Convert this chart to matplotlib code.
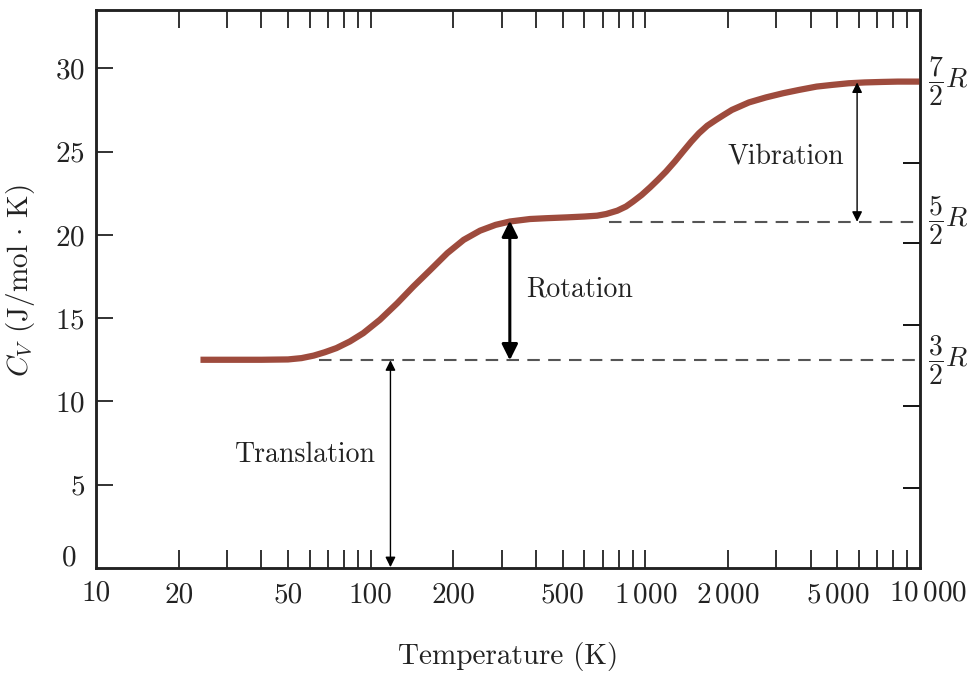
import numpy as np
import matplotlib
matplotlib.use('Agg')
import matplotlib.pyplot as plt


#molar heat capacity of a diatomic gas
temp = [24, 40, 50, 56, 62, 68, 75, 84, 94, 108, 125, 143, 165, 190, 218, 250, 285, 321, 380, 438,
        520, 600, 667, 720, 790, 850, 902, 970, 1040, 1110, 1189, 1280, 1371, 1470, 1567, 1680, 1807,
        1930, 2066, 2383, 2748, 3170, 3625, 4200, 4773, 5500, 6300, 7300, 8300, 10000]
cv = [12.5, 12.5, 12.52, 12.6, 12.75, 12.95, 13.2, 13.6, 14.1, 14.9, 15.9, 16.9, 17.9, 18.9, 19.7, 20.25,
      20.6, 20.8, 20.95, 21.0, 21.05, 21.1, 21.15, 21.25, 21.45, 21.7, 22.0, 22.4, 22.85, 23.3, 23.8, 24.4,
      25.0, 25.6, 26.1, 26.55, 26.9, 27.2, 27.5, 27.95, 28.25, 28.5, 28.7, 28.9, 29.0, 29.1, 29.15, 29.18,
      29.2, 29.2]

#levels 3/2 R, 5/2 R, 7/2 R
R = 8.314
levels = [1.5 * R, 2.5 * R, 3.5 * R]
level_labels = [r'$\dfrac{3}{2}R$', r'$\dfrac{5}{2}R$', r'$\dfrac{7}{2}R$']

#tick values
xtick_vals = [20, 30, 40, 50, 60, 70, 80, 90, 100, 200, 300, 400, 500, 600, 700, 800, 900,
              1000, 2000, 3000, 4000, 5000, 6000, 7000, 8000, 9000]
xtick_text = {20: '20', 50: '50', 100: '100', 200: '200', 500: '500',
              1000: r'$1\,000$', 2000: r'$2\,000$', 5000: r'$5\,000$'}
ytick_vals = [5, 10, 15, 20, 25, 30]
ytick_right = [4.8, 9.7, 14.6, 19.5, 24.3]

plt.rcParams['font.family'] = 'cmr10'
plt.rcParams['mathtext.fontset'] = 'cm'
plt.rcParams['axes.formatter.use_mathtext'] = True

ink = '#222222'
fig = plt.figure(figsize=(9.74, 6.83), dpi=100)
ax = fig.add_axes([0.0986, 0.1684, 0.846, 0.817])

ax.set_xscale('log')
ax.set_xlim(10, 10000)
ax.set_ylim(0, 33.5)

#the curve
ax.plot(temp, cv, color='#9e4b3d', lw=4.5, solid_capstyle='butt', solid_joinstyle='round', zorder=3)

#dashed levels
ax.plot([65, 10000], [levels[0], levels[0]], color='#555555', lw=1.5, dashes=(6, 4), zorder=2)
ax.plot([740, 10000], [levels[1], levels[1]], color='#555555', lw=1.5, dashes=(6, 4), zorder=2)

#arrows
ax.annotate('', xy=(118, 0.05), xytext=(118, levels[0]),
            arrowprops=dict(arrowstyle='<|-|>', color='black', lw=1.0, mutation_scale=15, shrinkA=0, shrinkB=0))
ax.annotate('', xy=(321, levels[0]), xytext=(321, 20.85),
            arrowprops=dict(arrowstyle='<|-|>', color='black', lw=2.2, mutation_scale=24, shrinkA=0, shrinkB=0))
ax.annotate('', xy=(5900, levels[1]), xytext=(5900, 29.15),
            arrowprops=dict(arrowstyle='<|-|>', color='black', lw=1.0, mutation_scale=15, shrinkA=0, shrinkB=0))

ax.text(57.7, 6.8, 'Translation', fontsize=20, ha='center', va='center', color=ink)
ax.text(578, 16.75, 'Rotation', fontsize=20, ha='center', va='center', color=ink)
ax.text(3255, 24.7, 'Vibration', fontsize=20, ha='center', va='center', color=ink)

#right side R labels
for lv, lab in zip([12.5, 20.9, 29.2], level_labels):
    ax.text(1.01, lv, lab, transform=ax.get_yaxis_transform(), fontsize=20,
            ha='left', va='center', color=ink)

#ticks
ax.set_xticks(xtick_vals)
ax.set_xticklabels([xtick_text.get(v, '') for v in xtick_vals])
ax.xaxis.set_minor_locator(matplotlib.ticker.NullLocator())
ax.set_yticks(ytick_vals)
ax.tick_params(axis='x', direction='in', length=13, width=1.3, top=True, pad=10, labelsize=21, colors=ink)
ax.tick_params(axis='y', direction='in', length=12, width=1.3, pad=8, labelsize=21, colors=ink)
#end labels 10 and 10000 sit on the spines
ax.annotate('10', xy=(0, 0), xycoords='axes fraction', xytext=(0, -18.5), textcoords='offset points',
            ha='center', va='center', fontsize=21, color=ink)
ax.annotate(r'$10\,000$', xy=(1, 0), xycoords='axes fraction', xytext=(6, -18.5), textcoords='offset points',
            ha='center', va='center', fontsize=21, color=ink)
ax.annotate('0', xy=(0, 0), xycoords='axes fraction', xytext=(-14, 7), textcoords='offset points',
            ha='right', va='center', fontsize=21, color=ink)

ax2 = ax.twinx()
ax2.set_ylim(ax.get_ylim())
ax2.set_yticks(ytick_right)
ax2.set_yticklabels([])
ax2.tick_params(axis='y', direction='in', length=12, width=1.3)

for a in (ax, ax2):
    for s in a.spines.values():
        s.set_linewidth(1.8)
        s.set_color(ink)

ax.set_xlabel('Temperature (K)', fontsize=21, labelpad=24, color=ink)
ax.set_ylabel(r'$C_V$ (J/mol $\cdot$ K)', fontsize=21, labelpad=8, color=ink)
ax.yaxis.set_label_coords(-0.072, 0.515)

fig.savefig('out.png', dpi=100)
